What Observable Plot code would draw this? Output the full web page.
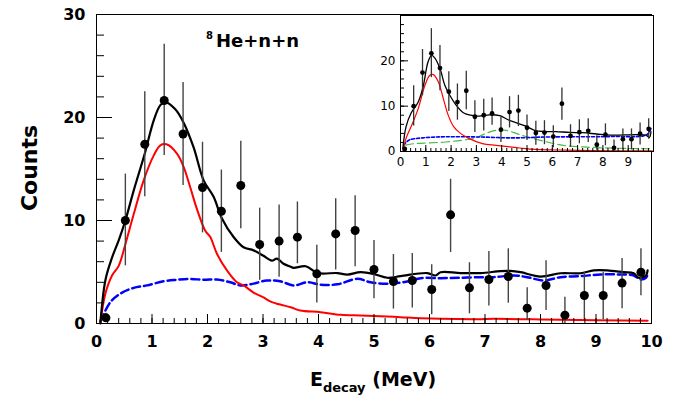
<!DOCTYPE html>
<html><head><meta charset="utf-8">
<script src="https://cdn.jsdelivr.net/npm/d3@7"></script>
<script src="https://cdn.jsdelivr.net/npm/@observablehq/plot@0.6"></script>
<style>
body{margin:0;background:white;}
#wrap{position:relative;width:678px;height:398px;overflow:hidden;}
#insetBox{position:absolute;left:365px;top:0px;}
</style></head><body><div id="wrap"><div id="mainBox"></div><div id="insetBox"></div></div>
<script>
// ---- measured data (bin centres, counts, error bar low/high) ----
const binX   = [0.17,0.52,0.87,1.22,1.56,1.91,2.25,2.60,2.94,3.29,3.62,3.97,4.31,4.66,5.00,5.35,5.69,6.04,6.38,6.72,7.07,7.42,7.76,8.10,8.44,8.79,9.13,9.47,9.81];
const counts = [0.55,10.0,17.4,21.65,18.4,13.2,10.9,13.4,7.67,8.0,8.38,4.82,8.7,9.03,5.24,4.08,4.17,3.3,10.55,3.46,4.27,4.56,1.49,3.69,0.81,2.72,2.72,3.92,4.98];
const errLo  = [0.1,5.6,12.3,16.3,13.4,8.8,6.9,9.2,4.2,4.5,5.8,2.0,5.2,5.5,2.4,1.4,1.5,0.85,6.9,0.94,1.7,1.97,0.3,1.26,0.0,0.36,0.36,1.43,2.7];
const errHi  = [1.0,14.5,22.5,27.1,23.4,17.6,14.9,17.7,11.2,11.5,11.8,7.6,12.1,12.4,8.06,6.7,6.8,5.7,14.0,5.9,7.0,7.25,3.47,6.1,2.55,4.98,4.98,6.3,7.25];

// main panel curves
const totX = [0.07,0.16,0.28,0.40,0.52,0.67,0.87,1.03,1.15,1.24,1.42,1.57,1.75,1.93,2.11,2.26,2.47,2.65,2.83,3.0,3.16,3.25,3.37,3.5,3.55,3.77,3.98,4.34,4.52,4.76,5.0,5.24,5.48,5.96,6.11,6.2,6.56,6.92,7.28,7.46,7.64,8.0,8.36,8.72,8.96,9.2,9.5,9.68,9.77,9.9,9.93];
const totY = [0,4.2,6.4,8.06,10,12.9,16.5,19.7,21.2,21.5,20.8,19.5,17.1,13.9,12.3,10.2,8.4,7.4,7.1,6.6,6.1,6.3,5.8,5.5,5.4,5.56,4.9,4.9,4.75,4.98,4.8,4.44,4.6,4.9,4.66,4.98,4.9,4.9,5.08,5.1,4.98,4.56,4.88,4.88,5.15,5.15,4.98,4.88,4.44,4.66,5.15];
const resX = [0.07,0.16,0.28,0.40,0.52,0.67,0.85,1.03,1.15,1.26,1.45,1.57,1.69,1.81,1.96,2.05,2.17,2.35,2.53,2.65,2.83,3.0,3.16,3.31,3.5,3.67,4.04,4.4,4.76,5.12,5.48,5.84,6.2,6.92,7.16,8.36,9.93];
const resY = [0.1,2.9,4.66,5.6,7.7,10.6,13.9,16.3,17.3,17.4,16.5,15.2,13.2,11.1,9.0,8.4,6.77,5.15,4.0,3.7,3.0,2.55,2.07,1.84,1.58,1.26,1.1,0.84,0.78,0.71,0.61,0.51,0.45,0.42,0.45,0.36,0.26];
const bgX  = [0.07,0.25,0.43,0.67,0.91,1.21,1.45,1.69,1.93,2.17,2.41,2.59,2.77,3.07,3.31,3.55,3.8,4.04,4.34,4.7,4.94,5.24,5.6,5.84,6.2,6.56,6.92,7.16,7.52,7.76,8.06,8.36,8.72,9.08,9.44,9.68,9.8,9.9,9.93];
const bgY  = [0.2,2.07,2.9,3.46,3.7,4.1,4.24,4.33,4.24,4.27,4.0,3.7,3.8,4.17,4.1,3.7,4.0,3.76,3.8,4.34,4.0,3.85,4.08,4.4,4.4,4.44,4.5,4.5,4.66,4.5,4.17,4.5,4.6,4.76,4.76,4.66,4.27,4.44,4.8];

// inset curves
const inTotX = [0.09,0.22,0.42,0.69,0.89,1.09,1.23,1.36,1.56,1.76,1.96,2.23,2.5,2.77,3.11,3.51,3.92,4.25,4.59,4.93,5.33,5.74,6.14,6.68,7.2,7.75,8.29,8.83,9.37,9.7,9.84,9.9];
const inTotY = [0.6,5.5,8.5,10.8,14.2,19.8,21.2,20.6,18.3,14.5,12.3,10.0,8.5,8.0,7.8,8.1,7.9,7.0,6.3,5.65,4.6,4.4,4.4,4.2,4.15,3.86,3.6,3.65,3.7,3.6,3.1,4.4];
const inResX = [0.09,0.22,0.42,0.69,0.96,1.16,1.3,1.5,1.7,1.9,2.1,2.37,2.7,3.24,3.78,4.32,4.72,5.33,6.54,8.56,9.95];
const inResY = [0,2.9,5.5,9.3,14.5,16.8,16.95,15.3,11.5,7.8,5.5,4.0,2.9,1.74,1.37,1.0,0.77,0.47,0.3,0.15,0.15];
const inBgX  = [0.13,0.33,0.86,1.79,3.12,4.44,5.77,7.1,8.42,9.6,9.8,9.9];
const inBgY  = [1.4,2.5,3.0,3.25,3.2,3.0,3.2,3.25,3.3,3.45,4.0,5.1];
const inResBX = [0.2,0.6,1.13,1.79,2.45,2.98,3.38,3.78,4.18,4.57,4.97,5.5,6.04,6.56,7.23,8.02,9.08,9.95];
const inResBY = [1.4,1.77,1.9,2.1,2.5,3.0,4.0,4.66,4.66,4.0,3.25,2.5,1.77,1.24,1.0,0.8,0.66,0.6];

// ticks & labels
const xLabels = [0,1,2,3,4,5,6,7,8,9,10];
const yLabels = [0,10,20,30];
const xMinor = d3.range(0, 10.001, 0.2).map(v => +v.toFixed(1));
const yMinor = d3.range(0, 30.001, 2);
const inXLabels = [0,1,2,3,4,5,6,7,8,9];
const inYLabels = [0,10,20];

const titleText = "He+n+n";
const titleSup = "8";
const yTitle = "Counts";
const xTitleMain = "E", xTitleSub = "decay", xTitleUnit = " (MeV)";

const pts = binX.map((x,i)=>({x, y:counts[i], lo:errLo[i], hi:errHi[i]}));
const tbl = (xs, ys) => xs.map((x,i)=>({x, y:ys[i]}));

const main = Plot.plot({
  width: 678, height: 398,
  marginLeft: 96, marginRight: 27, marginTop: 14, marginBottom: 75,
  x: {domain: [0,10]}, y: {domain: [0,30]},
  style: {fontFamily: "DejaVu Sans", fontSize: "16px", fontWeight: "bold", background: "white", color: "black"},
  marks: [
    Plot.line(tbl(bgX,bgY), {x:"x", y:"y", stroke:"#0000ff", strokeWidth:2.5, strokeDasharray:"8,4", curve:"catmull-rom"}),
    Plot.line(tbl(resX,resY), {x:"x", y:"y", stroke:"#ff0000", strokeWidth:2, curve:"catmull-rom"}),
    Plot.line(tbl(totX,totY), {x:"x", y:"y", stroke:"black", strokeWidth:2.2, curve:"catmull-rom"}),
    Plot.ruleX(pts, {x:"x", y1:"lo", y2:"hi", stroke:"#444", strokeWidth:1.4}),
    Plot.dot(pts, {x:"x", y:"y", r:4.5, fill:"black"}),
    Plot.frame({stroke:"black", strokeWidth:1}),
    Plot.axisX(xLabels, {tickSize:0, tickPadding:12, label:null, fontWeight:"bold"}),
    Plot.axisX(xLabels, {tickSize:-9, fill:"none", label:null}),
    Plot.axisX(xMinor, {tickSize:-5, fill:"none", label:null}),
    Plot.axisY(yLabels, {tickSize:0, tickPadding:11, label:null, fontWeight:"bold"}),
    Plot.axisY(yLabels, {tickSize:-16, fill:"none", label:null}),
    Plot.axisY(yMinor, {tickSize:-8, fill:"none", label:null})
  ]
});
document.getElementById("mainBox").appendChild(main);

const svg = d3.select(main);
const t = svg.append("text").attr("x", 206).attr("y", 47).attr("text-anchor","start").attr("font-family","DejaVu Sans").attr("font-weight","bold").attr("fill","black");
t.append("tspan").attr("dy", -8.5).attr("font-size", 10).text(titleSup);
t.append("tspan").attr("dx", 3).attr("dy", 8.5).attr("font-size", 18).text(titleText);

const xt = svg.append("text").attr("x", 373).attr("y", 386).attr("text-anchor","middle").attr("font-family","DejaVu Sans").attr("font-weight","bold").attr("fill","black");
xt.append("tspan").attr("font-size", 19).text(xTitleMain);
xt.append("tspan").attr("font-size", 13).attr("dy", 6).text(xTitleSub);
xt.append("tspan").attr("font-size", 19).attr("dy", -6).text(xTitleUnit);

svg.append("text").attr("transform","translate(37,168) rotate(-90)").attr("text-anchor","middle")
  .attr("font-family","DejaVu Sans").attr("font-weight","bold").attr("font-size", 22).attr("fill","black").text(yTitle);

const inset = Plot.plot({
  width: 300, height: 170,
  marginLeft: 35, marginRight: 12, marginTop: 15, marginBottom: 19,
  x: {domain: [0,10]}, y: {domain: [0,30]},
  style: {fontFamily: "DejaVu Sans", fontSize: "12px", background: "transparent", color: "black", overflow: "visible"},
  marks: [
    Plot.frame({fill:"white"}),
    Plot.line(tbl(inResBX,inResBY), {x:"x", y:"y", stroke:"#44bb44", strokeWidth:1.2, strokeDasharray:"8,4", curve:"catmull-rom"}),
    Plot.line(tbl(inBgX,inBgY), {x:"x", y:"y", stroke:"#0000ff", strokeWidth:1.6, strokeDasharray:"3,2", curve:"catmull-rom"}),
    Plot.line(tbl(inResX,inResY), {x:"x", y:"y", stroke:"#ff0000", strokeWidth:1.2, curve:"catmull-rom"}),
    Plot.line(tbl(inTotX,inTotY), {x:"x", y:"y", stroke:"black", strokeWidth:1.3, curve:"catmull-rom"}),
    Plot.ruleX(pts, {x:"x", y1:"lo", y2:"hi", stroke:"#333", strokeWidth:1.3}),
    Plot.dot(pts, {x:"x", y:"y", r:2.4, fill:"black"}),
    Plot.frame({stroke:"black", strokeWidth:1}),
    Plot.axisX(inXLabels, {tickSize:0, tickPadding:6, label:null}),
    Plot.axisX(inXLabels, {tickSize:-6, fill:"none", label:null}),
    Plot.axisX(xMinor, {tickSize:-3, fill:"none", label:null}),
    Plot.axisY(inYLabels, {tickSize:0, tickPadding:5, label:null}),
    Plot.axisY(inYLabels, {tickSize:-8, fill:"none", label:null}),
    Plot.axisY(yMinor, {tickSize:-4, fill:"none", label:null})
  ]
});
document.getElementById("insetBox").appendChild(inset);
</script></body></html>
